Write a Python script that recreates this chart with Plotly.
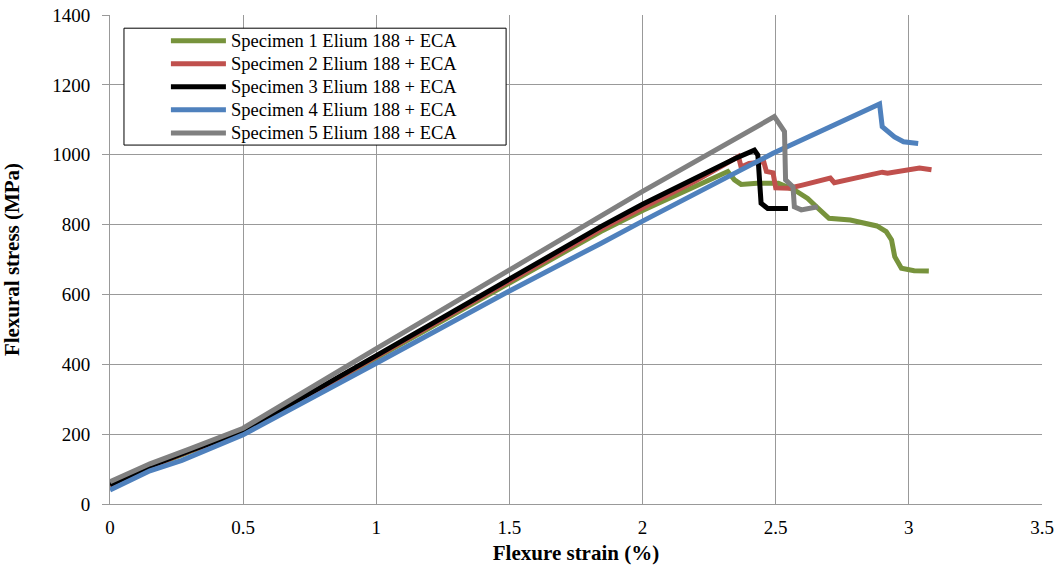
import plotly.graph_objects as go

names = [
    "Specimen 1 Elium 188 + ECA",
    "Specimen 2 Elium 188 + ECA",
    "Specimen 3 Elium 188 + ECA",
    "Specimen 4 Elium 188 + ECA",
    "Specimen 5 Elium 188 + ECA",
]
colors = ["#77933C", "#C0504D", "#000000", "#4F81BD", "#808080"]

s1_x = [0, 0.15, 0.3, 0.5, 1.0, 1.5, 1.843, 2.0, 2.2, 2.32, 2.345, 2.37, 2.43, 2.51, 2.57, 2.62, 2.66, 2.7, 2.78, 2.88, 2.915, 2.935, 2.947, 2.972, 3.02, 3.075]
s1_y = [52, 105, 150, 203, 418, 632, 780, 840, 912, 952, 928, 915, 918, 918, 899, 875, 846, 818, 813, 796, 780, 756, 708, 675, 668, 667]

s2_x = [0, 0.15, 0.3, 0.5, 1.0, 1.5, 1.843, 2.0, 2.2, 2.36, 2.37, 2.40, 2.455, 2.465, 2.49, 2.5, 2.55, 2.6, 2.69, 2.705, 2.72, 2.8, 2.9, 2.92, 3.0, 3.04, 3.085]
s2_y = [53, 107, 152, 206, 422, 638, 787, 848, 925, 995, 965, 975, 980, 952, 948, 905, 904, 913, 930, 933, 920, 933, 950, 947, 958, 962, 957]

s3_x = [0, 0.15, 0.3, 0.5, 1.0, 1.5, 1.843, 2.0, 2.2, 2.35, 2.42, 2.433, 2.445, 2.47, 2.546]
s3_y = [55, 108, 153, 208, 425, 645, 794, 858, 935, 990, 1013, 999, 861, 846, 846]

s4_x = [0, 0.15, 0.27, 0.5, 1.0, 1.5, 1.843, 2.0, 2.49, 2.7, 2.89, 2.9, 2.946, 2.98, 3.035]
s4_y = [40, 95, 125, 198, 403, 610, 746, 810, 1004, 1080, 1145, 1080, 1051, 1037, 1032]

s5_x = [0, 0.15, 0.3, 0.5, 1.0, 1.5, 1.843, 2.0, 2.495, 2.52, 2.533, 2.537, 2.565, 2.57, 2.596, 2.658]
s5_y = [64, 115, 158, 217, 445, 672, 827, 895, 1109, 1080, 1066, 928, 908, 851, 842, 851]

xs = [s1_x, s2_x, s3_x, s4_x, s5_x]
ys = [s1_y, s2_y, s3_y, s4_y, s5_y]

x_ticks = [0, 0.5, 1, 1.5, 2, 2.5, 3, 3.5]
y_ticks = [0, 200, 400, 600, 800, 1000, 1200, 1400]

fig = go.Figure()
for n, c, x, y in zip(names, colors, xs, ys):
    fig.add_trace(go.Scatter(
        x=x, y=y, mode="lines",
        name='<span style="font-size:18.5px">' + n + "</span>",
        line=dict(color=c, width=5)))

grid = "#999999"
font_family = "Liberation Serif"

# legend frame
fig.add_shape(type="rect", xref="paper", yref="paper",
              x0=0.015, x1=0.425, y0=0.734, y1=0.973,
              line=dict(color="black", width=1), fillcolor="white", layer="above")

fig.update_layout(
    width=1055, height=570,
    margin=dict(l=110, r=13, t=15, b=66),
    paper_bgcolor="white", plot_bgcolor="white",
    font=dict(family=font_family, size=18, color="black"),
    showlegend=True,
    legend=dict(x=0.06, y=0.981, xanchor="left", yanchor="top",
                bgcolor="rgba(0,0,0,0)", borderwidth=0,
                font=dict(family=font_family, size=15.4), tracegroupgap=0,
                itemwidth=55),
    xaxis=dict(range=[0, 3.5], tickvals=x_ticks, ticktext=[str(v) for v in x_ticks],
               showgrid=True, gridcolor=grid, gridwidth=1,
               showline=True, linecolor=grid, linewidth=1,
               zeroline=False, ticks="", automargin=False,
               ticklabelstandoff=6, ticklabeloverflow="allow",
               tickfont=dict(family=font_family, size=19),
               title=dict(text="<b>Flexure strain (%)</b>", standoff=8,
                          font=dict(family=font_family, size=21))),
    yaxis=dict(range=[0, 1400], tickvals=y_ticks,
               showgrid=True, gridcolor=grid, gridwidth=1,
               showline=True, linecolor=grid, linewidth=1,
               zeroline=False, ticks="outside", ticklen=7, tickcolor=grid,
               automargin=False, ticklabelstandoff=8, ticklabeloverflow="allow",
               tickfont=dict(family=font_family, size=19),
               title=dict(text="<b>Flexural stress (MPa)</b>", standoff=26,
                          font=dict(family=font_family, size=21))),
)

# remove the default 8px page margin so the 1055x570 figure fills the window exactly
fig.write_html("out.html",
               config={"displayModeBar": False},
               post_script="document.body.style.margin='0';document.body.style.overflow='hidden';")
